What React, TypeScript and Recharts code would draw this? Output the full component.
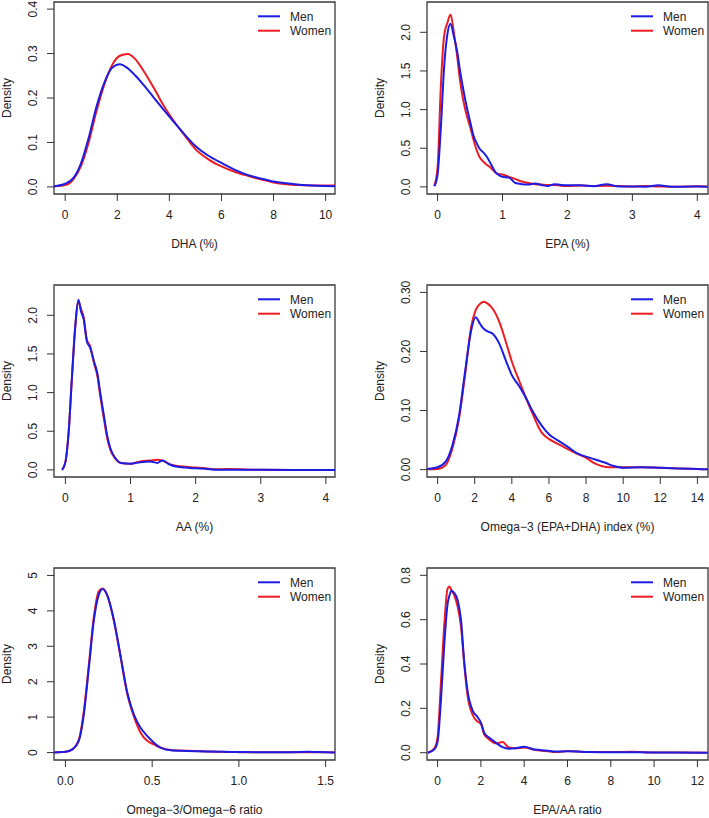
import { LineChart, Line, XAxis, YAxis, ReferenceArea } from "recharts";

// density curves (x grid shared by men / women per panel)
const dhaX = [-0.43, 0, 0.3, 0.6, 0.9, 1.2, 1.5, 1.8, 2.1, 2.4, 2.7, 3.0, 3.4, 3.8, 4.2, 4.6, 5.0, 5.5, 6.0, 6.5, 7.0, 7.5, 8.0, 8.5, 9.0, 9.5, 10.0, 10.36];
const dhaMen = [0.0015, 0.007, 0.019, 0.052, 0.11, 0.18, 0.234, 0.268, 0.276, 0.267, 0.25, 0.23, 0.201, 0.172, 0.144, 0.117, 0.092, 0.07, 0.054, 0.039, 0.027, 0.019, 0.012, 0.008, 0.005, 0.003, 0.002, 0.0015];
const dhaWomen = [0.001, 0.004, 0.016, 0.046, 0.1, 0.17, 0.23, 0.274, 0.295, 0.299, 0.287, 0.262, 0.223, 0.181, 0.146, 0.115, 0.085, 0.062, 0.046, 0.034, 0.025, 0.017, 0.01, 0.006, 0.004, 0.003, 0.003, 0.003];

const epaX = [-0.05, 0, 0.05, 0.1, 0.15, 0.2, 0.25, 0.3, 0.35, 0.4, 0.45, 0.5, 0.55, 0.6, 0.65, 0.7, 0.75, 0.8, 0.85, 0.9, 0.95, 1.0, 1.1, 1.2, 1.3, 1.4, 1.5, 1.6, 1.7, 1.8, 1.9, 2.0, 2.2, 2.4, 2.6, 2.8, 3.0, 3.2, 3.4, 3.6, 3.8, 4.0, 4.16];
const epaMen = [0.01, 0.16, 0.76, 1.54, 1.97, 2.11, 1.95, 1.76, 1.48, 1.24, 1.03, 0.85, 0.67, 0.57, 0.49, 0.45, 0.4, 0.33, 0.25, 0.18, 0.15, 0.13, 0.12, 0.05, 0.035, 0.03, 0.045, 0.025, 0.01, 0.035, 0.025, 0.02, 0.02, 0.008, 0.035, 0.005, 0.005, 0.003, 0.02, 0.002, 0.002, 0.006, 0.002];
const epaWomen = [0.01, 0.25, 1.3, 1.95, 2.12, 2.23, 2.0, 1.7, 1.35, 1.1, 0.92, 0.78, 0.62, 0.48, 0.38, 0.33, 0.29, 0.26, 0.22, 0.18, 0.165, 0.16, 0.13, 0.1, 0.07, 0.05, 0.035, 0.03, 0.025, 0.025, 0.015, 0.012, 0.018, 0.01, 0.015, 0.01, 0.005, 0.01, 0.004, 0.003, 0.004, 0.008, 0.005];

const aaX = [-0.05, 0, 0.05, 0.1, 0.15, 0.2, 0.24, 0.28, 0.33, 0.38, 0.44, 0.49, 0.54, 0.59, 0.64, 0.69, 0.77, 0.85, 1.0, 1.15, 1.3, 1.41, 1.49, 1.6, 1.72, 1.85, 2.0, 2.15, 2.3, 2.5, 3.0, 3.5, 4.14];
const aaMen = [0, 0.1, 0.49, 1.19, 1.84, 2.2, 2.05, 1.95, 1.66, 1.58, 1.4, 1.25, 0.97, 0.71, 0.45, 0.28, 0.15, 0.09, 0.08, 0.1, 0.11, 0.09, 0.12, 0.07, 0.04, 0.03, 0.02, 0.015, 0.003, 0.002, 0.001, 0, 0];
const aaWomen = [0, 0.1, 0.49, 1.19, 1.84, 2.18, 2.08, 1.98, 1.68, 1.6, 1.38, 1.22, 0.93, 0.67, 0.42, 0.26, 0.14, 0.09, 0.08, 0.11, 0.12, 0.13, 0.12, 0.075, 0.05, 0.04, 0.03, 0.02, 0.008, 0.01, 0.001, 0, 0];

const o3X = [-0.57, 0, 0.45, 0.8, 1.15, 1.5, 1.8, 2.05, 2.3, 2.5, 2.7, 3.0, 3.3, 3.7, 4.0, 4.4, 4.8, 5.1, 5.6, 6.0, 6.5, 7.0, 7.5, 8.0, 8.5, 9.0, 9.5, 10.0, 11.0, 12.0, 13.0, 14.0, 14.57];
const o3Men = [0.001, 0.004, 0.014, 0.041, 0.09, 0.17, 0.234, 0.258, 0.246, 0.238, 0.234, 0.229, 0.215, 0.183, 0.16, 0.141, 0.119, 0.1, 0.075, 0.06, 0.049, 0.039, 0.028, 0.022, 0.017, 0.012, 0.006, 0.003, 0.004, 0.003, 0.002, 0.001, 0.0005];
const o3Women = [0.0005, 0.001, 0.008, 0.036, 0.085, 0.165, 0.24, 0.27, 0.281, 0.284, 0.281, 0.271, 0.252, 0.214, 0.183, 0.15, 0.118, 0.096, 0.063, 0.052, 0.043, 0.035, 0.027, 0.02, 0.01, 0.005, 0.004, 0.004, 0.004, 0.003, 0.002, 0.001, 0.0005];

const ratioX = [-0.065, 0, 0.04, 0.077, 0.106, 0.135, 0.163, 0.192, 0.215, 0.24, 0.279, 0.317, 0.356, 0.394, 0.433, 0.471, 0.51, 0.548, 0.606, 0.7, 0.8, 0.9, 1.0, 1.1, 1.2, 1.3, 1.4, 1.45, 1.553];
const ratioMen = [0.005, 0.02, 0.09, 0.33, 1.08, 2.39, 3.7, 4.45, 4.62, 4.45, 3.75, 2.75, 1.7, 1.08, 0.7, 0.47, 0.28, 0.14, 0.066, 0.047, 0.03, 0.02, 0.015, 0.01, 0.008, 0.01, 0.02, 0.015, 0.005];
const ratioWomen = [0.005, 0.02, 0.09, 0.36, 1.17, 2.48, 3.8, 4.55, 4.63, 4.45, 3.72, 2.72, 1.66, 1.03, 0.56, 0.33, 0.23, 0.14, 0.07, 0.05, 0.04, 0.02, 0.012, 0.008, 0.006, 0.006, 0.01, 0.008, 0.003];

const epaAaX = [-0.45, -0.15, 0, 0.15, 0.31, 0.46, 0.55, 0.65, 0.77, 0.92, 1.08, 1.23, 1.38, 1.62, 1.85, 2.0, 2.15, 2.38, 2.69, 3.0, 3.3, 3.6, 4.0, 4.5, 5.0, 5.5, 6.0, 7.0, 8.0, 9.0, 10.0, 11.0, 12.48];
const epaAaMen = [0, 0.015, 0.05, 0.23, 0.49, 0.67, 0.71, 0.73, 0.72, 0.69, 0.6, 0.41, 0.28, 0.19, 0.16, 0.136, 0.09, 0.068, 0.045, 0.025, 0.018, 0.02, 0.027, 0.014, 0.01, 0.005, 0.006, 0.003, 0.002, 0.002, 0.001, 0.001, 0];
const epaAaWomen = [0, 0.02, 0.07, 0.31, 0.58, 0.74, 0.75, 0.73, 0.71, 0.66, 0.57, 0.4, 0.26, 0.17, 0.14, 0.13, 0.083, 0.06, 0.042, 0.048, 0.023, 0.02, 0.023, 0.012, 0.008, 0.003, 0.008, 0.003, 0.003, 0.004, 0.001, 0.001, 0];

// axis ticks
const dhaXTicks = [0, 2, 4, 6, 8, 10];
const dhaYTicks = [0, 0.1, 0.2, 0.3, 0.4];
const epaXTicks = [0, 1, 2, 3, 4];
const epaYTicks = [0, 0.5, 1, 1.5, 2];
const o3XTicks = [0, 2, 4, 6, 8, 10, 12, 14];
const o3YTicks = [0, 0.1, 0.2, 0.3];
const ratioXTicks = [0, 0.5, 1, 1.5];
const ratioYTicks = [0, 1, 2, 3, 4, 5];
const epaAaXTicks = [0, 2, 4, 6, 8, 10, 12];
const epaAaYTicks = [0, 0.2, 0.4, 0.6, 0.8];

const seriesNames = ["Men", "Women"];

const MEN = "#1c1ce4";
const WOMEN = "#ec1c22";
const INK = "#222";
const PLOT_H = 192;
const AXIS_H = 60;

type PanelProps = {
  left: number;
  top: number;
  width: number;
  yAxisW: number;
  plotTop: number;
  xs: number[];
  men: number[];
  women: number[];
  xDomain: [number, number];
  yDomain: [number, number];
  xTicks: number[];
  yTicks: number[];
  xDigits: number;
  yDigits: number;
  xLabel: string;
};

function Panel(p: PanelProps) {
  const rows = p.xs.map((x, i) => ({ x, men: p.men[i], women: p.women[i] }));
  const height = p.plotTop + PLOT_H + AXIS_H;
  const rightMargin = p.width === 354 ? 19 : 1;
  const plotRight = p.width - rightMargin;

  const xTick = (props: any) => (
    <text x={props.x} y={props.y + 16} textAnchor="middle" fontSize={12} fill={INK}>
      {Number(props.payload.value).toFixed(p.xDigits)}
    </text>
  );
  const yTick = (props: any) => {
    const bx = props.x - 8;
    return (
      <text x={bx} y={props.y} transform={`rotate(-90 ${bx} ${props.y})`} textAnchor="middle" fontSize={12} fill={INK}>
        {Number(props.payload.value).toFixed(p.yDigits)}
      </text>
    );
  };

  return (
    <div style={{ position: "absolute", left: p.left, top: p.top, width: p.width, height }}>
      <LineChart width={p.width} height={height} data={rows} margin={{ top: p.plotTop, right: rightMargin, bottom: 0, left: 0 }}>
        <XAxis
          dataKey="x"
          type="number"
          domain={p.xDomain}
          ticks={p.xTicks}
          allowDataOverflow
          axisLine={false}
          tickSize={7}
          tickLine={{ stroke: "#333" }}
          tick={xTick}
          height={AXIS_H}
          label={{ value: p.xLabel, position: "insideBottom", offset: 6, fontSize: 12, fill: INK }}
        />
        <YAxis
          type="number"
          domain={p.yDomain}
          ticks={p.yTicks}
          allowDataOverflow
          axisLine={false}
          tickSize={7}
          tickLine={{ stroke: "#333" }}
          tick={yTick}
          width={p.yAxisW}
          label={{
            value: "Density",
            angle: -90,
            position: "insideLeft",
            offset: p.yAxisW - 47,
            fontSize: 12,
            fill: INK,
            style: { textAnchor: "middle" },
          }}
        />
        <Line type="monotone" dataKey="women" stroke={WOMEN} strokeWidth={2} dot={false} isAnimationActive={false} />
        <Line type="monotone" dataKey="men" stroke={MEN} strokeWidth={2} dot={false} isAnimationActive={false} />
        <ReferenceArea
          x1={p.xDomain[0]}
          x2={p.xDomain[1]}
          y1={p.yDomain[0]}
          y2={p.yDomain[1]}
          fill="none"
          fillOpacity={0}
          stroke="#3a3a3a"
          strokeWidth={1.3}
          ifOverflow="visible"
        />
      </LineChart>
      <svg
        width={80}
        height={40}
        style={{ position: "absolute", left: plotRight - 77, top: p.plotTop + 4, overflow: "visible" }}
      >
        {seriesNames.map((name, i) => (
          <g key={name}>
            <line x1={0} x2={22} y1={10.3 + i * 14.4} y2={10.3 + i * 14.4} stroke={i === 0 ? MEN : WOMEN} strokeWidth={2} />
            <text x={32} y={14.6 + i * 14.4} fontSize={12} fill={INK}>
              {name}
            </text>
          </g>
        ))}
      </svg>
    </div>
  );
}

export default function App() {
  return (
    <div
      style={{
        position: "absolute",
        left: 0,
        top: 0,
        width: 709,
        height: 818,
        background: "#fff",
        fontFamily: "'Liberation Sans', Arial, Helvetica, sans-serif",
      }}
    >
      <Panel left={0} top={0} width={354} yAxisW={54} plotTop={2} xs={dhaX} men={dhaMen} women={dhaWomen}
        xDomain={[-0.43, 10.36]} yDomain={[-0.016, 0.416]} xTicks={dhaXTicks} yTicks={dhaYTicks}
        xDigits={0} yDigits={1} xLabel="DHA (%)" />
      <Panel left={354} top={0} width={355} yAxisW={73} plotTop={2} xs={epaX} men={epaMen} women={epaWomen}
        xDomain={[-0.163, 4.165]} yDomain={[-0.092, 2.392]} xTicks={epaXTicks} yTicks={epaYTicks}
        xDigits={0} yDigits={1} xLabel="EPA (%)" />
      <Panel left={0} top={272} width={354} yAxisW={54} plotTop={13} xs={aaX} men={aaMen} women={aaWomen}
        xDomain={[-0.175, 4.14]} yDomain={[-0.092, 2.392]} xTicks={epaXTicks} yTicks={epaYTicks}
        xDigits={0} yDigits={1} xLabel="AA (%)" />
      <Panel left={354} top={272} width={355} yAxisW={73} plotTop={13} xs={o3X} men={o3Men} women={o3Women}
        xDomain={[-0.57, 14.57]} yDomain={[-0.0125, 0.3125]} xTicks={o3XTicks} yTicks={o3YTicks}
        xDigits={0} yDigits={2} xLabel="Omega−3 (EPA+DHA) index (%)" />
      <Panel left={0} top={544} width={354} yAxisW={54} plotTop={24} xs={ratioX} men={ratioMen} women={ratioWomen}
        xDomain={[-0.066, 1.554]} yDomain={[-0.21, 5.21]} xTicks={ratioXTicks} yTicks={ratioYTicks}
        xDigits={1} yDigits={0} xLabel="Omega−3/Omega−6 ratio" />
      <Panel left={354} top={544} width={355} yAxisW={73} plotTop={24} xs={epaAaX} men={epaAaMen} women={epaAaWomen}
        xDomain={[-0.49, 12.49]} yDomain={[-0.033, 0.833]} xTicks={epaAaXTicks} yTicks={epaAaYTicks}
        xDigits={0} yDigits={1} xLabel="EPA/AA ratio" />
    </div>
  );
}
